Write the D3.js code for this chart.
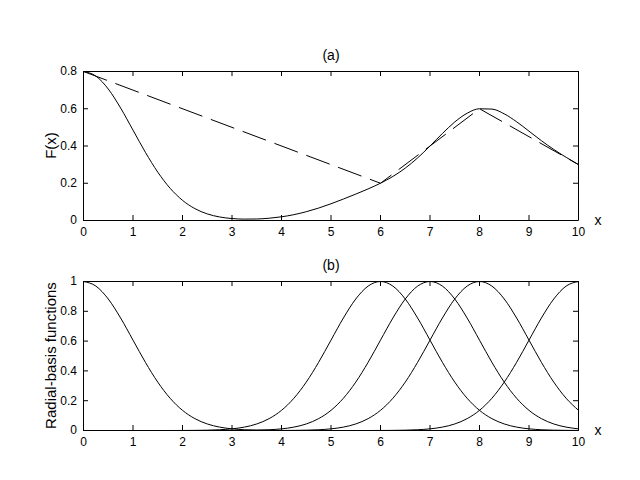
<!DOCTYPE html>
<html>
<head>
<meta charset="utf-8">
<script src="https://cdn.jsdelivr.net/npm/d3@7"></script>
<style>
  body { margin: 0; background: #fff; }
  text { font-family: "Liberation Sans", Arial, sans-serif; fill: #000; }
</style>
</head>
<body>
<script>
// sample grid along x (read every 0.25)
const xGrid = [0, 0.25, 0.5, 0.75, 1, 1.25, 1.5, 1.75, 2, 2.25, 2.5, 2.75, 3, 3.25, 3.5, 3.75,
  4, 4.25, 4.5, 4.75, 5, 5.25, 5.5, 5.75, 6, 6.25, 6.5, 6.75, 7, 7.25, 7.5, 7.75,
  8, 8.25, 8.5, 8.75, 9, 9.25, 9.5, 9.75, 10];

// (a) solid curve F(x)
const fValues = [0.8000, 0.7754, 0.7060, 0.6038, 0.4852, 0.3662, 0.2598, 0.1730, 0.1083, 0.0638,
  0.0354, 0.0190, 0.0105, 0.0074, 0.0081, 0.0122, 0.0198, 0.0313, 0.0472, 0.0668,
  0.0899, 0.1152, 0.1417, 0.1696, 0.2003, 0.2365, 0.2812, 0.3361, 0.3999, 0.4670,
  0.5290, 0.5759, 0.6000, 0.5982, 0.5725, 0.5301, 0.4796, 0.4286, 0.3816, 0.3393, 0.3001];

// (a) dashed line through the data points
const dataX = [0, 6, 7, 8, 10];
const dataY = [0.8, 0.2, 0.4, 0.6, 0.3];

// (b) radial-basis functions, one per centre
const rbf0 = [1, 0.9692, 0.8825, 0.7548, 0.6065, 0.4578, 0.3247, 0.2163, 0.1353, 0.0796, 0.0439,
  0.0228, 0.0111, 0.0051, 0.0022, 0.0009, 0.0003, 0, 0, 0, 0, 0, 0, 0, 0, 0, 0, 0, 0, 0, 0, 0,
  0, 0, 0, 0, 0, 0, 0, 0, 0];
const rbf6 = [0, 0, 0, 0, 0, 0, 0, 0, 0.0003, 0.0009, 0.0022, 0.0051, 0.0111, 0.0228, 0.0439, 0.0796,
  0.1353, 0.2163, 0.3247, 0.4578, 0.6065, 0.7548, 0.8825, 0.9692, 1, 0.9692, 0.8825, 0.7548,
  0.6065, 0.4578, 0.3247, 0.2163, 0.1353, 0.0796, 0.0439, 0.0228, 0.0111, 0.0051, 0.0022, 0.0009, 0.0003];
const rbf7 = [0, 0, 0, 0, 0, 0, 0, 0, 0, 0, 0, 0, 0.0003, 0.0009, 0.0022, 0.0051, 0.0111, 0.0228,
  0.0439, 0.0796, 0.1353, 0.2163, 0.3247, 0.4578, 0.6065, 0.7548, 0.8825, 0.9692, 1, 0.9692,
  0.8825, 0.7548, 0.6065, 0.4578, 0.3247, 0.2163, 0.1353, 0.0796, 0.0439, 0.0228, 0.0111];
const rbf8 = [0, 0, 0, 0, 0, 0, 0, 0, 0, 0, 0, 0, 0, 0, 0, 0, 0.0003, 0.0009, 0.0022, 0.0051,
  0.0111, 0.0228, 0.0439, 0.0796, 0.1353, 0.2163, 0.3247, 0.4578, 0.6065, 0.7548, 0.8825,
  0.9692, 1, 0.9692, 0.8825, 0.7548, 0.6065, 0.4578, 0.3247, 0.2163, 0.1353];
const rbf10 = [0, 0, 0, 0, 0, 0, 0, 0, 0, 0, 0, 0, 0, 0, 0, 0, 0, 0, 0, 0, 0, 0, 0, 0,
  0.0003, 0.0009, 0.0022, 0.0051, 0.0111, 0.0228, 0.0439, 0.0796, 0.1353, 0.2163, 0.3247,
  0.4578, 0.6065, 0.7548, 0.8825, 0.9692, 1];

// ticks
const xTicks = [0, 1, 2, 3, 4, 5, 6, 7, 8, 9, 10];
const yTicksA = [0, 0.2, 0.4, 0.6, 0.8];
const yTicksB = [0, 0.2, 0.4, 0.6, 0.8, 1];

const width = 640, height = 480;
const left = 83, right = 578;

const svg = d3.select("body").append("svg")
  .attr("width", width)
  .attr("height", height);

svg.append("rect").attr("width", width).attr("height", height).attr("fill", "#fff");

const x = d3.scaleLinear().domain([0, 10]).range([left, right]);

const panels = [
  { top: 71, bottom: 220, yMax: 0.8, yTicks: yTicksA, title: "(a)", ylabel: "F(x)",
    lines: [
      { xs: xGrid, ys: fValues, dash: null, curve: d3.curveMonotoneX },
      { xs: dataX, ys: dataY, dash: "25,9", curve: d3.curveLinear }
    ] },
  { top: 281, bottom: 430, yMax: 1, yTicks: yTicksB, title: "(b)", ylabel: "Radial-basis functions",
    lines: [rbf0, rbf6, rbf7, rbf8, rbf10].map(ys => ({ xs: xGrid, ys, dash: null, curve: d3.curveMonotoneX })) }
];

panels.forEach(p => {
  const y = d3.scaleLinear().domain([0, p.yMax]).range([p.bottom, p.top]);
  const g = svg.append("g");

  //curves
  const lineG = g.append("g").attr("transform", "translate(0.5,0.5)");
  p.lines.forEach(l => {
    const line = d3.line()
      .x(d => x(d[0]))
      .y(d => y(d[1]))
      .curve(l.curve);
    lineG.append("path")
      .attr("d", line(l.xs.map((v, i) => [v, l.ys[i]])))
      .attr("fill", "none")
      .attr("stroke", "#000")
      .attr("stroke-width", 1)
      .attr("stroke-dasharray", l.dash);
  });

  //box with inward ticks
  g.append("g")
    .attr("transform", `translate(0,${p.bottom})`)
    .call(d3.axisBottom(x).tickValues(xTicks).tickSize(-5).tickSizeOuter(0).tickPadding(7).tickFormat(d => d));
  g.append("g")
    .attr("transform", `translate(0,${p.top})`)
    .call(d3.axisTop(x).tickValues(xTicks).tickSize(-5).tickSizeOuter(0).tickFormat(""));
  g.append("g")
    .attr("transform", `translate(${left},0)`)
    .call(d3.axisLeft(y).tickValues(p.yTicks).tickSize(-5).tickSizeOuter(0).tickPadding(6).tickFormat(d => d));
  g.append("g")
    .attr("transform", `translate(${right},0)`)
    .call(d3.axisRight(y).tickValues(p.yTicks).tickSize(-5).tickSizeOuter(0).tickFormat(""));

  g.selectAll(".tick text")
    .attr("font-size", 12)
    .attr("font-family", "Liberation Sans, Arial, sans-serif");
  g.selectAll(".domain, .tick line").attr("stroke", "#000");

  //labels
  g.append("text")
    .attr("x", (left + right) / 2 + 0.5)
    .attr("y", p.top - 11)
    .attr("text-anchor", "middle")
    .style("font-size", "14px")
    .text(p.title);

  g.append("text")
    .attr("transform", `translate(55.5,${(p.top + p.bottom) / 2}) rotate(-90)`)
    .attr("text-anchor", "middle")
    .style("font-size", "15px")
    .text(p.ylabel);

  g.append("text")
    .attr("x", 598)
    .attr("y", p.bottom + 4.5)
    .attr("text-anchor", "middle")
    .style("font-size", "14px")
    .text("x");
});
</script>
</body>
</html>
